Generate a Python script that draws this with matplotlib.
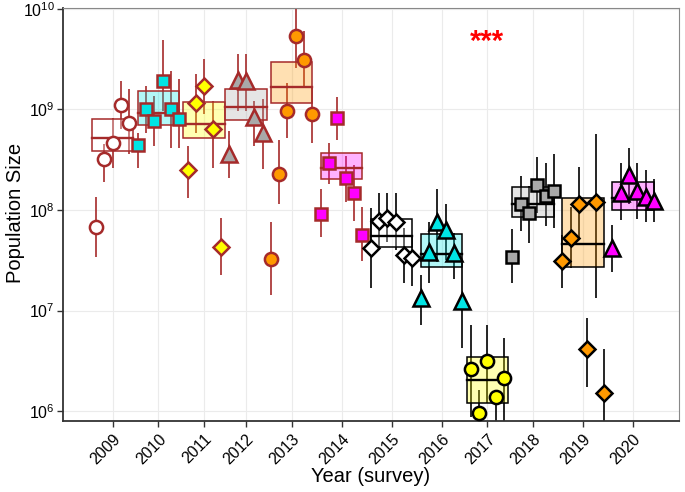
import matplotlib
matplotlib.use("Agg")
import matplotlib.pyplot as plt
import matplotlib.transforms as mtransforms
import numpy as np

plt.rcParams['font.family'] = ['Liberation Sans', 'DejaVu Sans']
plt.rcParams['mathtext.fontset'] = 'custom'
plt.rcParams['mathtext.rm'] = 'Liberation Sans'

years = [2009, 2010, 2011, 2012, 2013, 2014, 2015, 2016, 2017, 2018, 2019, 2020]

# population estimate per survey, grouped by year
pop_est = [
    [6.7e7, 3.24e8, 4.68e8, 1.11e9, 7.4e8],
    [4.47e8, 1.02e9, 7.73e8, 1.93e9, 1.02e9, 8.09e8],
    [2.52e8, 1.17e9, 1.72e9, 6.44e8, 4.25e7],
    [3.64e8, 1.97e9, 1.93e9, 8.47e8, 5.88e8],
    [3.23e7, 2.3e8, 9.72e8, 5.4e9, 3.12e9, 9.08e8],
    [9.02e7, 2.96e8, 8.28e8, 2.06e8, 1.46e8, 5.58e7],
    [4.15e7, 7.69e7, 8.24e7, 7.52e7, 3.53e7, 3.3e7],
    [1.32e7, 3.78e7, 7.52e7, 6.26e7, 3.7e7, 1.24e7],
    [2.61e6, 9.55e5, 3.13e6, 1.38e6, 2.13e6],
    [3.38e7, 1.16e8, 9.23e7, 1.79e8, 1.39e8, 1.53e8],
    [3.08e7, 5.21e7, 1.16e8, 4.12e6, 1.19e8, 1.51e6],
    [4.15e7, 1.49e8, 2.25e8, 1.56e8, 1.36e8, 1.24e8],
]
pop_lo = [
    [3.4e7, 1.88e8, 2.64e8, 6.44e8, 3.64e8],
    [2.64e8, 5.88e8, 4.37e8, 9.72e8, 4.17e8, 4.17e8],
    [1.33e8, 5.88e8, 9.08e8, 2.64e8, 2.24e7],
    [2.1e8, 9.72e8, 9.72e8, 4.37e8, 2.58e8],
    [1.42e7, 1.16e8, 5.25e8, 2.59e9, 1.72e9, 4.68e8],
    [5.33e7, 1.83e8, 5.01e8, 1.21e8, 7.69e7, 3.08e7],
    [1.66e7, 3.96e7, 4.75e7, 3.96e7, 1.9e7, 1.74e7],
    [7.15e6, 1.9e7, 3.01e7, 3.15e7, 2.04e7, 4.22e6],
    [8.7e5, 6e5, 1.2e6, 7.6e5, 6e5],
    [1.86e7, 6.12e7, 4.65e7, 9.23e7, 6.86e7, 6.55e7],
    [1.66e7, 2.62e7, 5.21e7, 1.73e6, 1.32e7, 6e5],
    [2.4e7, 7.87e7, 1.16e8, 8.05e7, 7.52e7, 7.52e7],
]
pop_hi = [
    [1.36e8, 4.57e8, 8.3e8, 1.93e9, 1.61e9],
    [5.88e8, 1.72e9, 1.37e9, 4.92e9, 2.43e9, 2.02e9],
    [4.37e8, 2.26e9, 3.19e9, 1.22e9, 8.24e7],
    [6.15e8, 3.57e9, 3.57e9, 1.22e9, 1.28e9],
    [7.52e7, 5.01e8, 1.85e9, 1.2e10, 6.05e9, 1.72e9],
    [1.6e8, 4.68e8, 1.34e9, 3.47e8, 2.83e8, 1.06e8],
    [1.04e8, 1.49e8, 1.46e8, 1.46e8, 6.55e7, 5.33e7],
    [2.24e7, 7.52e7, 1.63e8, 1.14e8, 5.85e7, 2.94e7],
    [7.15e6, 1.61e6, 7.15e6, 1.62e6, 5.31e6],
    [6.4e7, 2.2e8, 1.75e8, 3.4e8, 2.9e8, 3.64e8],
    [5.58e7, 1.06e8, 2.7e8, 8.38e6, 5.74e8, 4.12e6],
    [7.02e7, 2.9e8, 4.17e8, 2.96e8, 2.52e8, 2.01e8],
]

# yearly summary boxes
box_lo = [3.9e8, 7.06e8, 5.25e8, 7.91e8, 1.17e9, 2.01e8, 4.25e7, 2.69e7, 1.2e6, 8.43e7, 2.69e7, 1.01e8]
box_mid = [5.25e8, 9.29e8, 7.22e8, 1.06e9, 1.68e9, 2.64e8, 5.46e7, 3.61e7, 2.03e6, 1.16e8, 4.55e7, 1.33e8]
box_hi = [8.1e8, 1.53e9, 1.19e9, 1.61e9, 2.98e9, 3.72e8, 8.05e7, 5.71e7, 3.44e6, 1.71e8, 1.33e8, 1.88e8]

markers = ['o', 's', 'D', '^'] * 3
fills = ['white', '#00E5E5', '#FFFF00', '#A9A9A9', '#FF9900', '#FF00FF'] * 2
edges = ['#A52A2A'] * 6 + ['black'] * 6
msize = {'o': 9.5, 's': 8.3, 'D': 8.0, '^': 11.5}

fig = plt.figure(figsize=(6.85, 4.92), dpi=100)
ax = fig.add_axes([0.092, 0.144, 0.899, 0.840])

box_w = 5.0
tick_pos = []
start = 0
for i, yr in enumerate(years):
    n = len(pop_est[i])
    xs = np.arange(start, start + n)
    center = xs.mean()
    tick_pos.append(center)

    # error bars
    ax.vlines(xs, pop_lo[i], pop_hi[i], color=edges[i], lw=1.2, zorder=2)

    # summary box
    ax.bar(center, box_hi[i] - box_lo[i], bottom=box_lo[i], width=box_w,
           color=fills[i], alpha=0.3, edgecolor='none', zorder=3)
    ax.bar(center, box_hi[i] - box_lo[i], bottom=box_lo[i], width=box_w,
           facecolor='none', edgecolor=edges[i], lw=1.1, zorder=3)
    ax.plot([center - box_w / 2, center + box_w / 2], [box_mid[i], box_mid[i]],
            color=edges[i], lw=1.7, zorder=3)

    # surveys
    ax.plot(xs, pop_est[i], ls='none', marker=markers[i], ms=msize[markers[i]],
            mfc=fills[i], mec=edges[i], mew=1.8, zorder=4)
    start += n

ax.set_yscale('log')
ax.set_ylim(10 ** 5.9, 10 ** 10.01)
ax.set_xlim(-3.96, 70.0)

ax.set_yticks([1e6, 1e7, 1e8, 1e9, 1e10])
ax.set_yticklabels([r'$\mathregular{10^{%d}}$' % k for k in range(6, 11)])
ax.minorticks_off()
ax.set_xticks(tick_pos)
ax.set_xticklabels([str(y) for y in years], rotation=45, ha='right', va='top',
                   rotation_mode='anchor')
shift = mtransforms.ScaledTranslation(0.04, 0, fig.dpi_scale_trans)
for lab in ax.get_xticklabels():
    lab.set_transform(lab.get_transform() + shift)

ax.tick_params(axis='both', colors='#333333', length=4, width=1)
ax.tick_params(axis='both', labelcolor='black')
ax.tick_params(axis='x', labelsize=11.5)
ax.tick_params(axis='y', labelsize=11.5, pad=2)
ax.grid(True, color='#EBEBEB', lw=0.8, zorder=0)
ax.set_axisbelow(True)

for side in ['top', 'right']:
    ax.spines[side].set_color('#888888')
    ax.spines[side].set_linewidth(0.8)
for side in ['left', 'bottom']:
    ax.spines[side].set_color('#333333')
    ax.spines[side].set_linewidth(1.3)

ax.set_xlabel('Year (survey)', fontsize=14.5)
ax.xaxis.set_label_coords(0.5, -0.11)
ax.set_ylabel('Population Size', fontsize=14.5)
ax.yaxis.set_label_coords(-0.062, 0.504)

ax.text(46.9, 10 ** 9.59, '***', color='red', fontsize=21, fontweight='bold',
        ha='center', va='baseline')

fig.savefig('out.png', dpi=100)
